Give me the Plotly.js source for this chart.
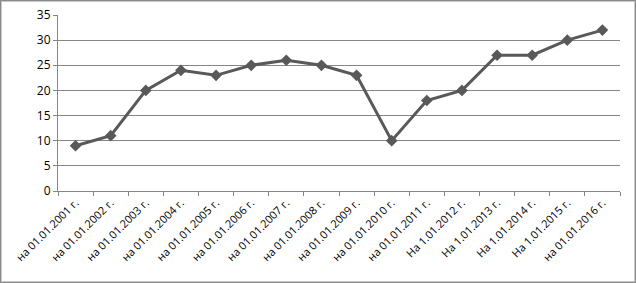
<!DOCTYPE html>
<html><head><meta charset="utf-8">
<script src="https://cdn.plot.ly/plotly-3.0.1.min.js"></script>
<style>
html,body{margin:0;padding:0;background:#fff;}
#wrap{position:relative;width:636px;height:283px;}
#chart{width:636px;height:283px;}
#frame{position:absolute;left:0;top:0;width:634px;height:281px;border:1px solid #8a8a8a;pointer-events:none;box-shadow:inset 0 0 0 1px #c8c8c8;}
</style></head>
<body>
<div id="wrap"><div id="chart"></div><div id="frame"></div></div>
<script>
const categories = ["на 01.01.2001 г.","на 01.01.2002 г.","на 01.01.2003 г.","на 01.01.2004 г.","на 01.01.2005 г.","на 01.01.2006 г.","на 01.01.2007 г.","на 01.01.2008 г.","на 01.01.2009 г.","на 01.01.2010 г.","на 01.01.2011 г.","На 1.01.2012 г.","На 1.01.2013 г.","На 1.01.2014 г.","На 1.01.2015 г.","на 01.01.2016 г."];
const values = [9, 11, 20, 24, 23, 25, 26, 25, 23, 10, 18, 20, 27, 27, 30, 32];
const yTicks = [0, 5, 10, 15, 20, 25, 30, 35];

Plotly.newPlot('chart', [{
  x: categories, y: values, type: 'scatter', mode: 'lines+markers',
  line: {color: '#595959', width: 3},
  marker: {symbol: 'diamond', size: 9, color: '#595959'},
  hoverinfo: 'none'
}], {
  width: 636, height: 283,
  margin: {l: 58, r: 16, t: 15, b: 92},
  paper_bgcolor: '#fff', plot_bgcolor: '#fff',
  showlegend: false,
  font: {family: 'Open Sans, sans-serif', size: 11, color: '#000'},
  xaxis: {type: 'category', range: [-0.5, categories.length - 0.5], automargin: false, tickangle: -45, tickson: 'boundaries', ticks: 'outside', ticklen: 4, tickcolor: '#868686',
          showline: true, linecolor: '#868686', linewidth: 1, showgrid: false, zeroline: false,
          tickfont: {size: 11, family: 'Open Sans, sans-serif'}},
  yaxis: {range: [0, 35], automargin: false, tickvals: yTicks, ticks: 'outside', ticklen: 4, tickcolor: '#868686',
          showline: true, linecolor: '#868686', linewidth: 1, showgrid: true, gridcolor: '#868686', gridwidth: 1,
          zeroline: false, tickfont: {size: 12, family: 'Open Sans, sans-serif'}}
}, {displayModeBar: false, staticPlot: true});
</script>
</body></html>
